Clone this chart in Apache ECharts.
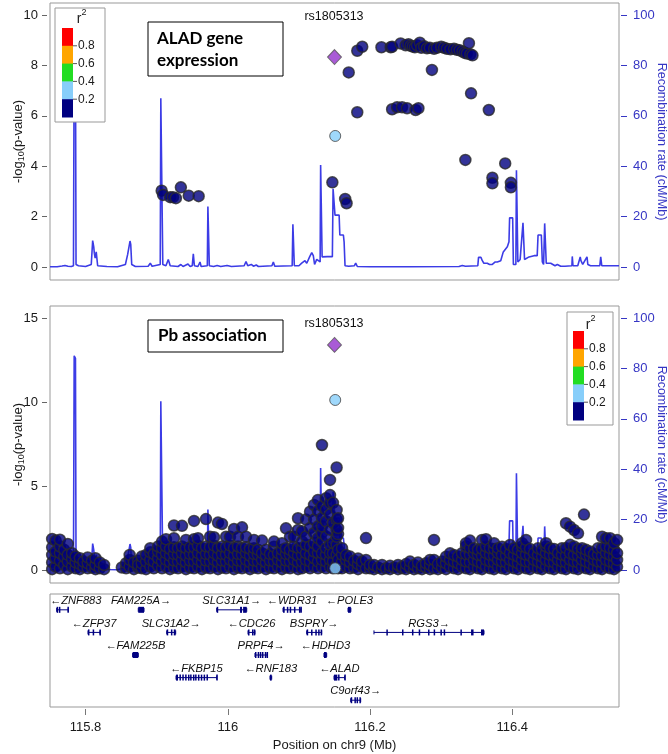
<!DOCTYPE html>
<html>
<head>
<meta charset="utf-8">
<script src="https://cdn.jsdelivr.net/npm/echarts/dist/echarts.min.js"></script>
<style>
html,body{margin:0;padding:0;background:#fff;}
#chart{width:668px;height:754px;}
</style>
</head>
<body>
<div id="chart"></div>
<script>
// ---------------- DATA ----------------
const leadSnp = 'rs1805313';
const leadPos = 116.150;
const leadEqtl = 8.33;
const leadPb = 13.4;

// top panel (ALAD expression) : r2 < 0.2 SNPs
const eqtlNavy = [
  [115.907,3.03],[115.909,2.86],[115.919,2.77],[115.923,2.77],[115.927,2.73],[115.934,3.16],[115.945,2.83],[115.959,2.81],
  [116.147,3.36],[116.165,2.70],[116.167,2.53],[116.170,7.72],[116.182,6.14],[116.182,8.58],[116.189,8.74],
  [116.216,8.72],[116.229,8.72],[116.231,8.74],[116.243,8.87],[116.250,8.80],[116.254,8.84],[116.257,8.78],
  [116.260,8.75],[116.263,8.72],[116.266,8.80],[116.270,8.90],[116.272,8.70],[116.276,8.76],[116.280,8.68],
  [116.284,8.70],[116.290,8.66],[116.294,8.70],[116.300,8.74],[116.304,8.70],[116.308,8.66],[116.313,8.64],
  [116.318,8.66],[116.322,8.62],[116.326,8.60],[116.330,8.55],[116.333,8.50],[116.336,8.47],[116.339,8.88],
  [116.341,8.44],[116.344,8.40],[116.287,7.82],
  [116.231,6.26],[116.238,6.34],[116.245,6.34],[116.252,6.30],[116.264,6.23],[116.268,6.30],
  [116.334,4.25],[116.342,6.89],[116.367,6.23],[116.372,3.54],[116.372,3.32],[116.390,4.11],[116.398,3.34],[116.398,3.16]
];
const eqtlLightBlue = [[116.151,5.20]];

// bottom panel (Pb association): columns of SNPs (position, -log10 p values)
const pbColPos = [
  115.753,115.758,115.764,115.770,115.775,115.781,115.786,115.792,115.797,115.803,115.809,115.814,115.820,115.826,
  115.851,115.857,115.862,115.868,115.874,115.879,115.885,115.891,115.896,115.902,
  115.9075,115.9131,115.9187,115.9243,115.9300,115.9356,115.9412,115.9468,115.9525,115.9581,115.9637,115.9693,
  115.9750,115.9806,115.9862,115.9918,115.9975,116.0031,116.0087,116.0143,116.0200,116.0256,116.0312,
  116.0368,116.0424,116.0481,116.0537,116.0593,116.0649,116.0706,116.0762,116.0818,116.0874,116.0931,116.0987,
  116.1043,116.1099,116.1156,116.1212,116.1268,116.1324,116.1381,116.1437,116.1479,116.1530,116.1550,
  116.1606,116.1662,116.1718,116.1774,116.1831,116.1887,116.1943,
  116.1999,116.2056,116.2112,116.2168,116.2224,116.2281,116.2337,116.2393,116.2449,116.2506,116.2562,116.2618,
  116.2674,116.2730,116.2787,116.2843,116.2899,116.2955,116.3012,116.3068,116.3124,116.3180,116.3237,116.3293,
  116.3349,116.3405,116.3462,116.3518,116.3574,116.3630,116.3687,116.3743,116.3799,116.3855,116.3912,116.3968,
  116.4024,116.4080,116.4137,116.4193,116.4249,116.4305,116.4362,116.4418,116.4474,116.4530,116.4587,116.4643,
  116.4699,116.4755,116.4812,116.4868,116.4924,116.4980,116.5008,116.5037,116.5093,116.5149,116.5205,116.5262,
  116.5318,116.5374,116.5430,116.5473
];
const pbColVals = [
  [0.05,0.45,0.9,1.35,1.85],[0.2,0.7,1.1,1.75],[0.1,0.55,1.0,1.4,1.8],[0.3,0.8,1.2],[0.05,0.5,0.9,1.55],
  [0.2,0.65,1.0],[0.1,0.45,0.8],[0.05,0.35,0.7],[0.2,0.5],[0.1,0.4,0.75],[0.15,0.55],[0.05,0.3,0.7],[0.1,0.45],[0.05,0.3],
  [0.15],[0.1,0.4],[0.2,0.6,0.9],[0.05,0.45],[0.15,0.55,0.3],[0.1,0.4,0.8],[0.05,0.5,0.9],[0.2,0.6,1.05,1.3],
  [0.1,0.5,0.95],[0.25,0.7,1.1,1.4],
  [0.1,0.5,0.9,1.3,1.69],[0.2,0.6,1.0,1.4,1.83],[0.05,0.45,0.85,1.25],[0.15,0.55,0.95,1.35,1.89,2.65],
  [0.1,0.5,0.9,1.3],[0.2,0.6,1.0,1.4,2.63],[0.05,0.45,0.85,1.3,1.79],[0.15,0.55,0.95,1.35],
  [0.1,0.5,0.9,1.35,1.83,2.92],[0.2,0.6,1.0,1.45,1.89],[0.05,0.45,0.85,1.3],[0.15,0.55,0.95,1.4,3.03],
  [0.1,0.5,0.9,1.35,1.98],[0.2,0.6,1.0,1.45,1.95],[0.05,0.45,0.85,1.3,2.82],[0.15,0.55,0.95,1.4,2.74],
  [0.1,0.5,0.9,1.35,1.98],[0.2,0.6,1.0,1.45,1.98],[0.05,0.45,0.85,1.3,2.44],[0.15,0.55,0.95,1.4,1.98],
  [0.1,0.5,0.9,1.3,2.54],[0.2,0.6,1.0,1.35,1.98],[0.05,0.45,0.85,1.25],
  [0.15,0.55,0.95,1.3,1.79],[0.1,0.5,0.9,1.2],[0.2,0.6,1.0,1.75],[0.05,0.45,0.85,1.2],[0.15,0.55,0.95],
  [0.1,0.5,0.9,1.39,1.69],[0.2,0.6,1.0],[0.05,0.45,0.85,1.2,1.59],[0.15,0.55,0.95,1.3,2.48],[0.1,0.5,0.9,1.2,1.98],
  [0.2,0.6,1.0,1.4,1.98],[0.05,0.45,0.85,1.3,2.38,3.08],
  [0.1,0.5,0.9,1.3,1.7,2.3],[0.2,0.6,1.0,1.5,2.0,3.0],[0.1,0.5,0.9,1.4,2.5,3.47],[0.2,0.7,1.1,1.6,2.2,3.0,3.87],
  [0.1,0.5,1.0,1.4,1.9,2.6,3.5,4.17],[0.2,0.6,1.0,1.7,2.2,2.6,3.1,3.8,7.44],[0.1,0.5,0.9,1.3,2.0,2.9,3.6,4.27],
  [0.2,0.6,1.0,1.5,2.4,3.3,4.0,4.46,5.36],[0.1,0.5,1.0,1.6,2.8,4.0],
  [0.3,0.9,1.5,1.98,2.38,3.0,3.57,6.1],[0.1,0.6,1.2,2.14,2.5,3.08],
  [0.1,0.5,0.9,1.3],[0.2,0.6,0.89],[0.1,0.45,0.8],[0.15,0.55],[0.05,0.35,0.69],[0.2,0.5],[0.1,0.6,1.9],
  [0.1,0.3],[0.05,0.3],[0.15],[0.05,0.3],[0.1],[0.05,0.25],[0.15],[0.05,0.3],[0.1,0.2],[0.05,0.35],[0.15,0.5],[0.05,0.3],
  [0.1,0.44],[0.05,0.25],[0.15,0.4],[0.05,0.3,0.6],[0.1,0.6,1.79],[0.05,0.35],[0.15,0.5],[0.05,0.4,0.79],
  [0.2,0.6,0.99],[0.1,0.5,0.89],[0.05,0.4,0.8],[0.2,0.6,1.0],
  [0.1,0.5,0.95,1.4,1.59],[0.05,0.45,0.9,1.3,1.75],[0.2,0.6,1.0,1.3],[0.1,0.5,0.9,1.2],[0.05,0.4,0.85,1.25,1.79],
  [0.2,0.6,1.0,1.4,1.83],[0.1,0.5,0.9,1.3],[0.05,0.45,0.85,1.25,1.59],[0.2,0.6,1.0,1.3],[0.1,0.5,0.9,1.39],
  [0.05,0.45,0.85,1.25],[0.2,0.6,1.0,1.49],
  [0.1,0.5,0.9,1.3],[0.05,0.4,0.8,1.2],[0.2,0.6,1.0,1.4,1.59],[0.1,0.5,0.9,1.35,1.79],[0.05,0.45,0.85,1.25],
  [0.2,0.6,1.0],[0.1,0.5,0.9,1.3],[0.05,0.4,0.8,1.2],[0.2,0.6,1.0,1.4,1.59],[0.1,0.5,0.9,1.3],[0.05,0.45,0.85,1.25],
  [0.2,0.6,1.0],
  [0.1,0.5,0.9,1.3],[0.05,0.45,0.85,1.3,2.78],[0.2,0.6,1.0,1.5,2.58],[0.1,0.5,0.9,1.4,2.38],[0.05,0.45,0.85,1.25,2.18],
  [0.2,0.6,1.0,1.3],[3.3],[0.1,0.5,0.9,1.2],[0.05,0.4,0.8,1.1],[0.2,0.6,0.95],[0.1,0.5,0.9,1.3],[0.05,0.45,0.85,1.3,1.98],
  [0.2,0.6,1.0,1.4,1.89],[0.1,0.5,0.9,1.3,1.89],[0.05,0.4,0.8,1.2,1.6],[0.2,0.6,1.0,1.79]
];
const pbLightBlue = [[116.151,10.12],[116.151,0.10]];

// recombination rate (cM/Mb)
const recomb = [
  [115.7500,0.1],[115.7600,0.1],[115.7669,0.4],[115.7690,0.1],[115.7711,0.6],[115.7730,0.1],[115.7753,0.3],
  [115.7800,0.2],[115.7830,0.5],[115.7840,85],[115.7858,84],[115.7866,1.0],[115.7900,0.5],[115.8000,0.2],
  [115.8080,1.0],[115.8100,10.5],[115.8115,8],[115.8123,5.5],[115.8135,3.5],[115.8150,6],[115.8157,5.8],
  [115.8170,0.5],[115.8300,0.2],[115.8450,0.1],[115.8560,1.0],[115.8592,5],[115.8625,10.3],[115.8635,9],
  [115.8649,1.0],[115.8700,0.2],[115.8880,0.3],[115.8910,1.5],[115.8935,0.3],[115.9050,1.0],[115.9058,67],
  [115.9078,67],[115.9086,1.0],[115.9130,0.5],[115.9163,3],[115.9190,0.5],[115.9300,0.2],[115.9340,1.0],
  [115.9370,0.2],[115.9440,1.2],[115.9470,0.2],[115.9500,0.5],[115.9515,5.2],[115.9530,0.5],[115.9580,0.2],
  [115.9609,2],[115.9625,0.2],[115.9712,0.5],[115.9720,24],[115.9732,24],[115.9740,0.5],[115.9800,0.2],
  [115.9850,0.6],[115.9900,0.2],[115.9990,0.6],[116.0050,0.2],[116.0230,0.5],[116.0256,2.2],[116.0280,0.5],
  [116.0330,1.0],[116.0360,0.3],[116.0400,0.8],[116.0430,0.2],[116.0620,0.5],[116.0640,2],[116.0660,0.3],
  [116.0905,0.5],[116.0915,17],[116.0927,17],[116.0935,0.5],[116.1000,0.5],[116.1039,1.5],[116.1060,1.0],
  [116.1085,2.5],[116.1110,1.5],[116.1150,4],[116.1180,5.7],[116.1202,4.5],[116.1220,1.0],[116.1250,3],
  [116.1272,2.5],[116.1298,2],[116.1305,40.5],[116.1318,40],[116.1326,4],[116.1400,4.1],[116.1470,4.1],
  [116.1480,31],[116.1500,31],[116.1507,20.6],[116.1565,20.6],[116.1575,12.7],[116.1625,12.7],[116.1635,10],
  [116.1648,0.5],[116.1700,0.3],[116.1780,0.5],[116.1798,1.5],[116.1821,0.2],[116.2000,0.1],[116.2150,0.1],
  [116.2160,0.4],[116.2170,0.1],[116.2530,0.1],[116.2545,0.3],[116.2560,0.1],[116.3250,0.2],[116.3297,0.6],
  [116.3340,0.3],[116.3515,0.5],[116.3525,3.8],[116.3560,3.8],[116.3578,2.5],[116.3600,1.5],[116.3648,1.5],
  [116.3680,1.0],[116.3719,1.0],[116.3760,2],[116.3789,2],[116.3837,2.5],[116.3873,6],[116.3930,8],
  [116.3953,10],[116.3962,19.5],[116.4005,19.5],[116.4015,1.0],[116.4050,1.0],[116.4058,38.4],[116.4068,38.4],
  [116.4078,2],[116.4110,3],[116.4150,17.5],[116.4160,17.5],[116.4172,3],[116.4235,4],[116.4305,4.5],
  [116.4350,4.5],[116.4362,12.7],[116.4408,12.7],[116.4422,2],[116.4440,1.0],[116.4455,17.3],[116.4465,17.3],
  [116.4477,1.5],[116.4540,1.5],[116.4600,0.5],[116.4633,1.0],[116.4680,0.3],[116.4700,0.8],[116.4740,0.3],
  [116.4838,0.5],[116.4843,4.2],[116.4853,0.5],[116.4920,0.5],[116.4955,4],[116.4965,2.5],[116.4990,1.0],
  [116.5050,4],[116.5062,1.0],[116.5080,1.5],[116.5100,0.5],[116.5230,0.5],[116.5243,4],[116.5258,0.5],
  [116.5400,0.5],[116.5500,0.5]
];

// genes
const geneNames  = ['ZNF883','FAM225A','SLC31A1','WDR31','POLE3','ZFP37','SLC31A2','CDC26','BSPRY','RGS3',
                    'FAM225B','PRPF4','HDHD3','FKBP15','RNF183','ALAD','C9orf43'];
const geneStart  = [115.7594,115.8741,115.9844,116.0776,116.1690,115.8034,115.9141,116.0284,116.1109,116.2055,
                    115.8662,116.0382,116.1352,115.9272,116.0593,116.1493,116.1728];
const geneEnd    = [115.7757,115.8822,116.0266,116.1029,116.1730,115.8203,115.9267,116.0382,116.1320,116.3602,
                    115.8741,116.0555,116.1390,115.9844,116.0617,116.1643,116.1868];
const geneStrand = ['-','+','+','-','-','-','+','-','+','+','-','+','-','-','-','-','+'];
const geneRow    = [1,1,1,1,1,2,2,2,2,2,3,3,3,4,4,4,5];
const geneExons  = [
  [[115.7594,115.7610],[115.7625,115.7635],[115.7745,115.7757]],
  [[115.8741,115.8822]],
  [[115.9844,115.9850],[116.0172,116.0200],[116.0215,116.0266]],
  [[116.0776,116.0800],[116.0830,116.0840],[116.0870,116.0880],[116.0930,116.0940],[116.1000,116.1010],[116.1020,116.1029]],
  [[116.1690,116.1730]],
  [[115.8034,115.8045],[115.8100,115.8110],[115.8195,115.8203]],
  [[115.9141,115.9150],[115.9200,115.9210],[115.9240,115.9267]],
  [[116.0284,116.0300],[116.0340,116.0350],[116.0365,116.0382]],
  [[116.1109,116.1120],[116.1170,116.1185],[116.1230,116.1245],[116.1270,116.1280],[116.1305,116.1320]],
  [[116.2229,116.2239],[116.2449,116.2459],[116.2589,116.2599],[116.2684,116.2694],[116.2815,116.2825],
   [116.2894,116.2904],[116.2989,116.2999],[116.3035,116.3045],[116.3270,116.3280],[116.3420,116.3455],[116.3560,116.3602]],
  [[115.8662,115.8741]],
  [[116.0382,116.0395],[116.0420,116.0430],[116.0450,116.0465],[116.0480,116.0500],[116.0520,116.0535],[116.0545,116.0555]],
  [[116.1352,116.1390]],
  [[115.9272,115.9300],[115.9320,115.9335],[115.9360,115.9370],[115.9400,115.9420],[115.9440,115.9450],[115.9470,115.9485],
   [115.9510,115.9520],[115.9540,115.9555],[115.9580,115.9590],[115.9620,115.9630],[115.9660,115.9670],[115.9700,115.9710],
   [115.9838,115.9844]],
  [[116.0593,116.0617]],
  [[116.1493,116.1540],[116.1550,116.1560],[116.1638,116.1643]],
  [[116.1728,116.1740],[116.1780,116.1790],[116.1810,116.1830],[116.1850,116.1868]]
];

const xTicks = [115.8, 116, 116.2, 116.4];
const eqtlTicks = [0, 2, 4, 6, 8, 10];
const pbTicks = [0, 5, 10, 15];
const recombTicks = [0, 20, 40, 60, 80, 100];
const r2Labels = ['0.8', '0.6', '0.4', '0.2'];

// ---------------- STYLE ----------------
const FONT = 'Liberation Sans';
const NAVY = '#000080';
const LBLUE = '#87CEFA';
const PURPLE = '#9432cc';
const RBLUE = '#3c3ce6';
const RTEXT = '#3636c4';
const X_MIN = 115.75, X_MAX = 116.55;

const pbNavy = [];
pbColPos.forEach((p, i) => pbColVals[i].forEach(v => pbNavy.push([p, v])));

const chart = echarts.init(document.getElementById('chart'));

function leftAxis(grid, min, max, ticks) {
  return {
    type: 'value', gridIndex: grid, min: min, max: max, position: 'left', offset: 3,
    axisLine: {show: false},
    axisTick: {show: true, length: 5, lineStyle: {color: '#666'}, customValues: ticks},
    axisLabel: {customValues: ticks, fontSize: 13, color: '#1a1a1a', fontFamily: FONT, margin: 9},
    splitLine: {show: false},
    name: '-log{s|10}(p-value)', nameLocation: 'middle', nameRotate: 90, nameGap: 21, nameMoveOverlap: false,
    nameTextStyle: {fontSize: 13, color: '#1a1a1a', fontFamily: FONT,
      rich: {s: {fontSize: 9, color: '#1a1a1a', fontFamily: FONT, padding: [6, 0, 0, 0]}}}
  };
}
function rightAxis(grid) {
  return {
    type: 'value', gridIndex: grid, min: -5.16, max: 104.76, position: 'right', offset: 2,
    axisLine: {show: false},
    axisTick: {show: true, length: 6, lineStyle: {color: RTEXT}, customValues: recombTicks},
    axisLabel: {customValues: recombTicks, fontSize: 13, color: RTEXT, fontFamily: FONT, margin: 12},
    splitLine: {show: false},
    name: 'Recombination rate (cM/Mb)', nameLocation: 'middle', nameRotate: -90, nameGap: 34, nameMoveOverlap: false,
    nameTextStyle: {fontSize: 12.5, color: RTEXT, fontFamily: FONT}
  };
}
function hiddenX(grid) {
  return {type: 'value', gridIndex: grid, min: X_MIN, max: X_MAX, show: false, splitLine: {show: false}};
}

function genesRender(params, api) {
  const i = api.value(3);
  const row = api.value(2);
  const p0 = api.coord([api.value(0), row]);
  const p1 = api.coord([api.value(1), row]);
  const y = p0[1];
  const children = [
    {type: 'line', shape: {x1: p0[0], y1: y, x2: p1[0], y2: y}, style: {stroke: NAVY, lineWidth: 1}},
    {type: 'line', shape: {x1: p0[0], y1: y - 2, x2: p0[0], y2: y + 2}, style: {stroke: NAVY, lineWidth: 1}},
    {type: 'line', shape: {x1: p1[0], y1: y - 2, x2: p1[0], y2: y + 2}, style: {stroke: NAVY, lineWidth: 1}}
  ];
  geneExons[i].forEach(ex => {
    const a = api.coord([ex[0], row])[0];
    const b = api.coord([ex[1], row])[0];
    children.push({type: 'rect', shape: {x: a, y: y - 3, width: Math.max(b - a, 1.5), height: 6},
      style: {fill: NAVY}});
  });
  const txt = geneStrand[i] === '-' ? '\u2190' + geneNames[i] : geneNames[i] + '\u2192';
  const w = txt.length * 6.5;
  let cx = (p0[0] + p1[0]) / 2;
  const cs = params.coordSys;
  if (cx - w / 2 < cs.x + 3) cx = cs.x + 3 + w / 2;
  if (cx + w / 2 > cs.x + cs.width - 3) cx = cs.x + cs.width - 3 - w / 2;
  children.push({type: 'text', style: {text: txt, x: cx, y: y - 9, align: 'center', verticalAlign: 'middle',
    fontSize: 11.2, fontStyle: 'italic', fontFamily: FONT, fill: '#111'}});
  return {type: 'group', children: children};
}

function legendEls(x0, y0, w, h, barX, barTop, segH, rX, rY) {
  const cols = ['#ff0000', '#ffa500', '#22dd22', LBLUE, NAVY];
  const els = [{type: 'rect', z: 100, shape: {x: x0, y: y0, width: w, height: h},
    style: {fill: '#fff', stroke: '#999', lineWidth: 1}}];
  cols.forEach((c, k) => {
    els.push({type: 'rect', z: 101, shape: {x: barX, y: barTop + k * segH, width: 11, height: segH + 0.5},
      style: {fill: c}});
  });
  r2Labels.forEach((t, k) => {
    const yy = barTop + (k + 1) * segH;
    els.push({type: 'line', z: 101, shape: {x1: barX + 11, y1: yy, x2: barX + 15, y2: yy},
      style: {stroke: '#555', lineWidth: 1}});
    els.push({type: 'text', z: 101, style: {text: t, x: barX + 16, y: yy, verticalAlign: 'middle', align: 'left',
      fontSize: 12, fontFamily: FONT, fill: '#1a1a1a'}});
  });
  els.push({type: 'text', z: 101, style: {text: 'r', x: rX, y: rY, align: 'center', verticalAlign: 'middle',
    fontSize: 14, fontFamily: FONT, fill: '#1a1a1a'}});
  els.push({type: 'text', z: 101, style: {text: '2', x: rX + 5, y: rY - 6, align: 'center', verticalAlign: 'middle',
    fontSize: 9, fontFamily: FONT, fill: '#1a1a1a'}});
  return els;
}

const titleFont = 'Lato';
const graphics = [].concat(
  legendEls(55, 8, 50, 114, 62, 28, 17.8, 79, 19),
  legendEls(567, 312, 46, 113, 573, 331, 17.8, 588, 325),
  [
    {type: 'rect', z: 100, shape: {x: 148, y: 22, width: 135, height: 54}, style: {fill: '#fff', stroke: '#000', lineWidth: 1}},
    {type: 'text', z: 101, style: {text: 'ALAD gene', x: 157, y: 39, verticalAlign: 'middle', fontSize: 17,
      fontWeight: 'bold', fontFamily: titleFont, fill: '#000'}},
    {type: 'text', z: 101, style: {text: 'expression', x: 157, y: 61, verticalAlign: 'middle', fontSize: 17,
      fontWeight: 'bold', fontFamily: titleFont, fill: '#000'}},
    {type: 'rect', z: 100, shape: {x: 148, y: 320, width: 135, height: 32}, style: {fill: '#fff', stroke: '#000', lineWidth: 1}},
    {type: 'text', z: 101, style: {text: 'Pb association', x: 158, y: 336, verticalAlign: 'middle', fontSize: 17,
      fontWeight: 'bold', fontFamily: titleFont, fill: '#000'}},
    {type: 'text', z: 101, style: {text: leadSnp, x: 334, y: 17, align: 'center', verticalAlign: 'middle',
      fontSize: 12.5, fontFamily: FONT, fill: '#111'}},
    {type: 'text', z: 101, style: {text: leadSnp, x: 334, y: 324, align: 'center', verticalAlign: 'middle',
      fontSize: 12.5, fontFamily: FONT, fill: '#111'}}
  ]
);

const ptStyle = {color: NAVY, borderColor: '#2b2b2b', borderWidth: 1.5};
const gridBase = {left: 50, width: 569, show: true, borderColor: '#999', borderWidth: 1,
  containLabel: false, outerBoundsMode: 'none'};
const option = {
  animation: false,
  backgroundColor: '#fff',
  grid: [
    Object.assign({}, gridBase, {top: 3, height: 277}),
    Object.assign({}, gridBase, {top: 306, height: 277}),
    Object.assign({}, gridBase, {top: 594, height: 113})
  ],
  xAxis: [
    hiddenX(0), hiddenX(1),
    {type: 'value', gridIndex: 2, min: X_MIN, max: X_MAX, position: 'bottom', offset: 2,
      axisLine: {show: false},
      axisTick: {show: true, length: 6, lineStyle: {color: '#777'}, customValues: xTicks},
      axisLabel: {customValues: xTicks, fontSize: 13, color: '#1a1a1a', fontFamily: FONT, margin: 12},
      splitLine: {show: false},
      name: 'Position on chr9 (Mb)', nameLocation: 'middle', nameGap: 30,
      nameTextStyle: {fontSize: 13, color: '#1a1a1a', fontFamily: FONT}}
  ],
  yAxis: [
    leftAxis(0, -0.516, 10.476, eqtlTicks),
    rightAxis(0),
    leftAxis(1, -0.774, 15.714, pbTicks),
    rightAxis(1),
    {type: 'value', gridIndex: 2, min: 0.3, max: 5.3, inverse: true, show: false, splitLine: {show: false}}
  ],
  graphic: {elements: graphics},
  series: [
    {type: 'line', xAxisIndex: 0, yAxisIndex: 1, data: recomb, showSymbol: false, z: 1,
      lineStyle: {color: RBLUE, width: 1.6}, silent: true},
    {type: 'line', xAxisIndex: 1, yAxisIndex: 3, data: recomb, showSymbol: false, z: 1,
      lineStyle: {color: RBLUE, width: 1.6}, silent: true},
    {type: 'scatter', xAxisIndex: 0, yAxisIndex: 0, data: eqtlNavy, symbolSize: 11, itemStyle: ptStyle, z: 3},
    {type: 'scatter', xAxisIndex: 0, yAxisIndex: 0, data: eqtlLightBlue, symbolSize: 11,
      itemStyle: {color: LBLUE, borderColor: '#444', borderWidth: 1}, z: 4},
    {type: 'scatter', xAxisIndex: 0, yAxisIndex: 0, data: [[leadPos, leadEqtl]], symbol: 'diamond', symbolSize: [14, 15],
      itemStyle: {color: PURPLE, borderColor: '#555', borderWidth: 1}, z: 5},
    {type: 'scatter', xAxisIndex: 1, yAxisIndex: 2, data: pbNavy, symbolSize: 11, itemStyle: ptStyle, z: 3},
    {type: 'scatter', xAxisIndex: 1, yAxisIndex: 2, data: pbLightBlue, symbolSize: 11,
      itemStyle: {color: LBLUE, borderColor: '#444', borderWidth: 1}, z: 4},
    {type: 'scatter', xAxisIndex: 1, yAxisIndex: 2, data: [[leadPos, leadPb]], symbol: 'diamond', symbolSize: [14, 15],
      itemStyle: {color: PURPLE, borderColor: '#555', borderWidth: 1}, z: 5},
    {type: 'custom', xAxisIndex: 2, yAxisIndex: 4, renderItem: genesRender, clip: false,
      encode: {x: [0, 1], y: 2},
      data: geneNames.map((n, i) => [geneStart[i], geneEnd[i], geneRow[i], i])}
  ]
};
chart.setOption(option);
</script>
</body>
</html>
